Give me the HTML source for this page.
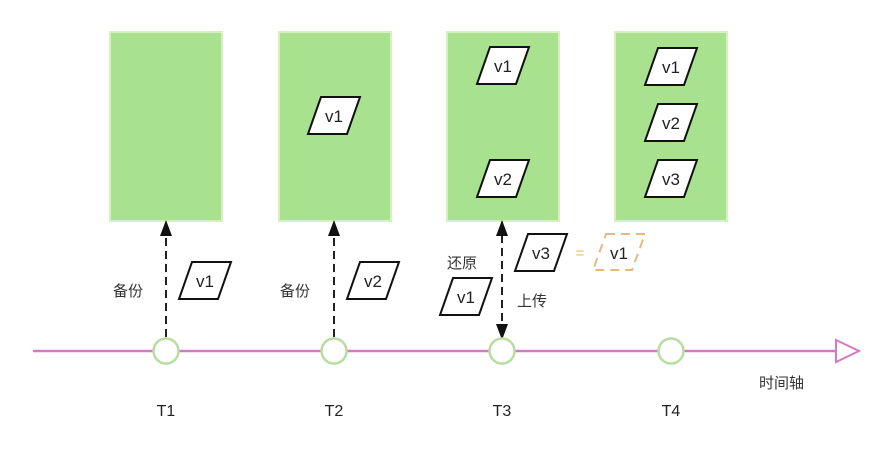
<!DOCTYPE html>
<html><head><meta charset="utf-8"><style>
html,body{margin:0;padding:0;background:#fff;width:890px;height:470px;overflow:hidden}
text{font-family:"Liberation Sans","Noto Sans CJK SC",sans-serif;}
</style></head><body>
<svg width="890" height="470" viewBox="0 0 890 470" xmlns="http://www.w3.org/2000/svg">
<defs>
<marker id="ah" markerWidth="16" markerHeight="12" refX="14" refY="6" orient="auto-start-reverse" markerUnits="userSpaceOnUse">
<path d="M0,0 L16,6 L0,12 z" fill="#111"/></marker>
<g id="pg"><polygon points="13,0 52,0 39,37 0,37" fill="#fff" stroke="#111" stroke-width="2"/></g>
</defs>
<g fill="#a9e28f" stroke="#d7f0c2" stroke-width="2">
<rect x="110" y="32" width="112" height="189"/>
<rect x="279" y="32" width="112" height="189"/>
<rect x="447" y="32" width="112" height="189"/>
<rect x="615" y="32" width="112" height="189"/>
</g>
<g font-size="17" fill="#222" text-anchor="middle">
<use href="#pg" x="308" y="97"/><text x="334" y="122">v1</text>
<use href="#pg" x="477" y="47"/><text x="503" y="72">v1</text>
<use href="#pg" x="477" y="160"/><text x="503" y="185">v2</text>
<use href="#pg" x="645" y="48"/><text x="671" y="73">v1</text>
<use href="#pg" x="645" y="104"/><text x="671" y="129">v2</text>
<use href="#pg" x="645" y="160"/><text x="671" y="185">v3</text>
<use href="#pg" x="179" y="262"/><text x="205" y="287">v1</text>
<use href="#pg" x="347" y="262"/><text x="373" y="287">v2</text>
<use href="#pg" x="440" y="278"/><text x="466" y="303">v1</text>
<use href="#pg" x="515" y="234"/><text x="541" y="259">v3</text>
<polygon points="606,234 645,234 632,270 593,270" fill="none" stroke="#e8b882" stroke-width="2" stroke-dasharray="9,6"/>
<text x="619" y="259">v1</text>
<text x="580" y="258" fill="#e8b882" font-size="15">=</text>
</g>
<line x1="33" y1="351" x2="836" y2="351" stroke="#d47ac0" stroke-width="2.5"/>
<polygon points="836,340 859,351 836,362" fill="#fff" stroke="#d47ac0" stroke-width="2"/>
<g stroke="#222" stroke-width="2" stroke-dasharray="8,5" fill="none">
<line x1="166" y1="337" x2="166" y2="222" marker-end="url(#ah)"/>
<line x1="334" y1="337" x2="334" y2="222" marker-end="url(#ah)"/>
<line x1="502" y1="222" x2="502" y2="338" marker-start="url(#ah)" marker-end="url(#ah)"/>
</g>
<g fill="#fff" stroke="#b8dda0" stroke-width="2.5">
<circle cx="166" cy="351" r="12.5"/><circle cx="334" cy="351" r="12.5"/>
<circle cx="502" cy="351" r="12.5"/><circle cx="671" cy="351" r="12.5"/>
</g>
<g font-size="15" fill="#333">
<text x="113" y="296">备份</text>
<text x="280" y="296">备份</text>
<text x="447" y="268">还原</text>
<text x="517" y="306">上传</text>
<text x="759" y="388">时间轴</text>
</g>
<g font-size="16" fill="#222" text-anchor="middle">
<text x="166" y="416">T1</text><text x="334" y="416">T2</text>
<text x="502" y="416">T3</text><text x="671" y="416">T4</text>
</g>
</svg>
</body></html>
